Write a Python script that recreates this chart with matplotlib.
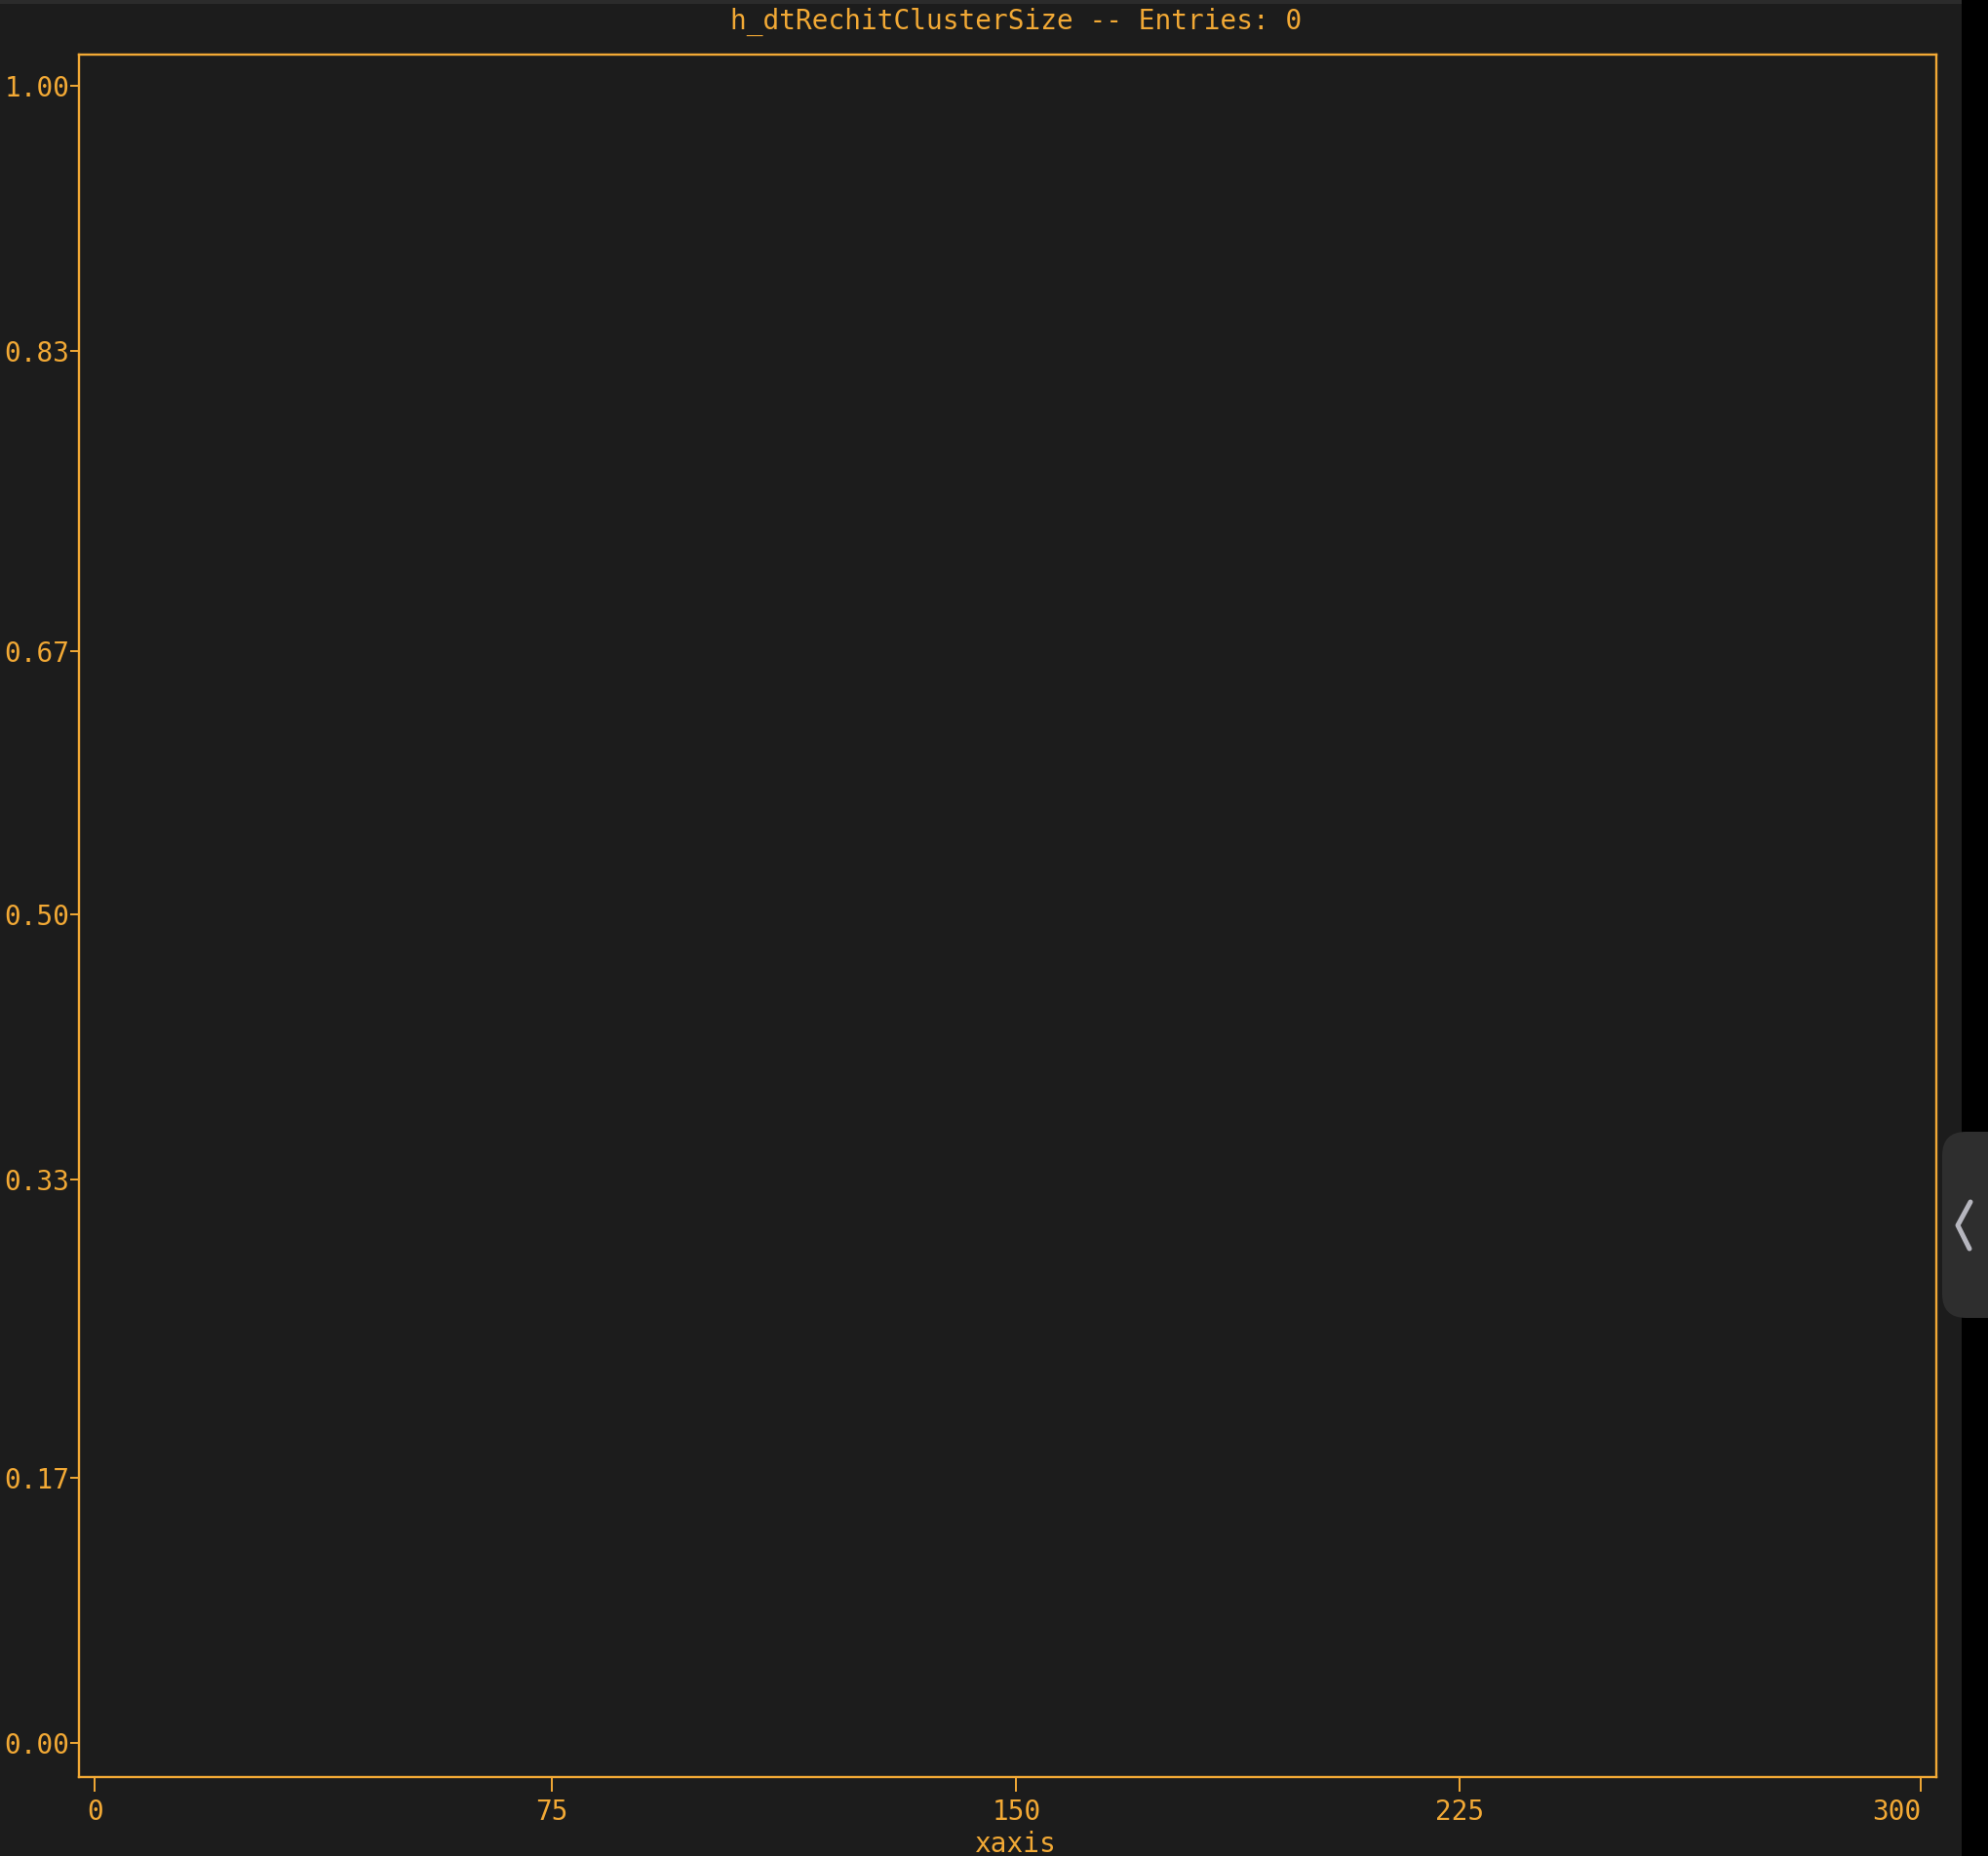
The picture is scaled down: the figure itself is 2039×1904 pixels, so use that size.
import matplotlib
matplotlib.use("Agg")
import matplotlib.pyplot as plt
from matplotlib.patches import FancyBboxPatch, Rectangle
from matplotlib.lines import Line2D

# histogram content (empty: "Entries: 0")
title = "h_dtRechitClusterSize -- Entries: 0"
xlabel = "xaxis"
entries = []
n_bins = 100
x_range = (0, 300)

x_ticks = [0, 75, 151.4, 224.2, 300]
x_tick_labels = ["0", "75", "150", "225", "300"]
y_ticks = [0.0, 0.160, 0.340, 0.5, 0.659, 0.840, 1.0]
y_tick_labels = ["0.00", "0.17", "0.33", "0.50", "0.67", "0.83", "1.00"]

W, H = 2039, 1904
bg = "#1c1c1c"
orange = "#f2a935"
font = "DejaVu Sans Mono"
fs = 20

fig = plt.figure(figsize=(W / 100, H / 100), dpi=100, facecolor=bg)
ax = fig.add_axes([81 / W, 1 - 1823 / H, (1986 - 81) / W, (1823 - 56) / H])
ax.set_facecolor(bg)

ax.hist(entries, bins=n_bins, range=x_range, color=orange, linewidth=0)

ax.set_xlim(-2.64, 302.56)
ax.set_ylim(-0.0206, 1.0188)

ax.set_xticks(x_ticks)
ax.set_xticklabels(x_tick_labels)
ax.set_yticks(y_ticks)
ax.set_yticklabels(y_tick_labels)
for lab in ax.get_xticklabels() + ax.get_yticklabels():
    lab.set_fontfamily(font)
    lab.set_fontsize(fs)
    lab.set_color(orange)
# last x label is pulled left so it stays inside
ax.get_xticklabels()[-1].set_horizontalalignment("right")

ax.tick_params(axis="x", length=10.5, width=1.4, color=orange, pad=5)
ax.tick_params(axis="y", length=6.5, width=1.4, color=orange, pad=0.5)
for sp in ax.spines.values():
    sp.set_color(orange)
    sp.set_linewidth(1.7)

fig.text(1042 / W, 1 - 30 / H, title, ha="center", va="baseline",
         color=orange, fontsize=fs, fontfamily=font)
fig.text(1042 / W, 1 - 1900 / H, xlabel, ha="center", va="baseline",
         color=orange, fontsize=fs, fontfamily=font)

# window chrome around the plot
fig.patches.append(Rectangle((0, 1 - 4 / H), 1, 4 / H, transform=fig.transFigure,
                             facecolor="#2b2b2b", edgecolor="none"))
fig.patches.append(Rectangle((2012 / W, 0), 1, 1, transform=fig.transFigure,
                             facecolor="black", edgecolor="none"))
fig.patches.append(FancyBboxPatch((1992 / W, 1 - 1352 / H), 80 / W, 191 / H,
                                  boxstyle="round,pad=0,rounding_size=0.012",
                                  mutation_aspect=W / H,
                                  transform=fig.transFigure,
                                  facecolor="#2e2e2e", edgecolor="none"))
fig.lines.append(Line2D([2021 / W, 2008 / W, 2020 / W],
                        [1 - 1233 / H, 1 - 1257 / H, 1 - 1281 / H],
                        transform=fig.transFigure, color="#b6b6be",
                        linewidth=3.6, solid_capstyle="round",
                        solid_joinstyle="round"))

fig.savefig("out.png", dpi=100, facecolor=bg)
